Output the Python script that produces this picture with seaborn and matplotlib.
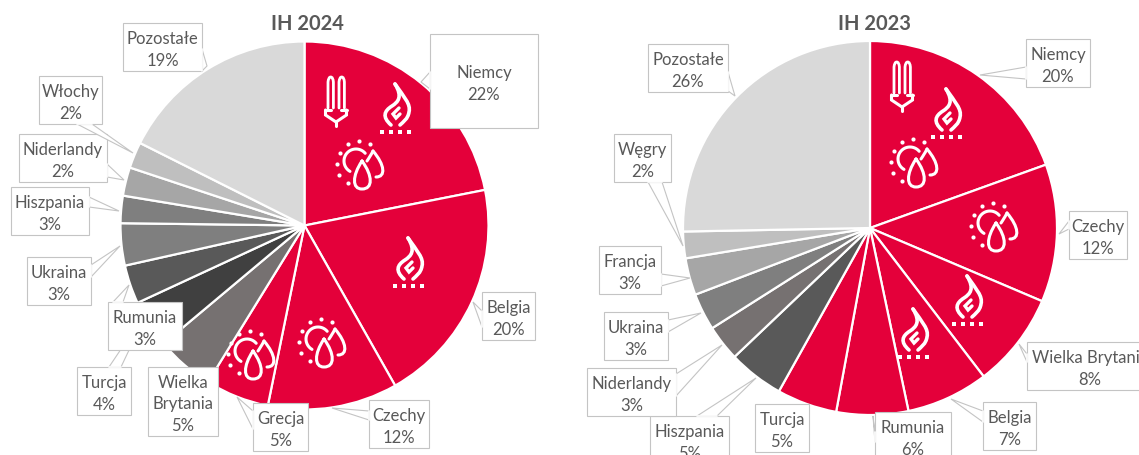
from __future__ import annotations

import matplotlib

matplotlib.use("Agg")

import matplotlib.pyplot as plt
import numpy as np
import seaborn as sns
from matplotlib.patches import PathPatch, Polygon, Rectangle
from matplotlib.path import Path

RED = "#E4003A"
TEXT = "#595959"
BOX_EDGE = "#C4C4C4"

COUNTRIES_24 = ["Niemcy", "Belgia", "Czechy", "Grecja", "Wielka\nBrytania", "Turcja",
                "Rumunia", "Ukraina", "Hiszpania", "Niderlandy", "Włochy", "Pozostałe"]
SHARES_24 = [21.9, 19.9, 11.4, 5.6, 5.1, 4.2, 3.4, 3.7, 2.4, 2.5, 2.3, 17.6]
LABELS_24 = ["22%", "20%", "12%", "5%", "5%", "4%", "3%", "3%", "3%", "2%", "2%", "19%"]
COLORS_24 = [RED, RED, RED, RED, "#767171", "#404040", "#595959", "#7F7F7F",
             "#7F7F7F", "#A6A6A6", "#BFBFBF", "#D9D9D9"]

COUNTRIES_23 = ["Niemcy", "Czechy", "Wielka Brytania", "Belgia", "Rumunia", "Turcja",
                "Hiszpania", "Niderlandy", "Ukraina", "Francja", "Węgry", "Pozostałe"]
SHARES_23 = [19.5, 11.9, 8.2, 7.1, 6.2, 5.2, 4.8, 3.1, 3.2, 3.2, 2.3, 25.3]
LABELS_23 = ["20%", "12%", "8%", "7%", "6%", "5%", "5%", "3%", "3%", "3%", "2%", "26%"]
COLORS_23 = [RED, RED, RED, RED, RED, RED, "#595959", "#767171", "#7F7F7F",
             "#A6A6A6", "#BFBFBF", "#D9D9D9"]

# label boxes in pixels: x0, x1, y0, y1, callout tip, callout base 1, callout base 2
BOXES_24 = {
    "Niemcy": (430, 538, 35, 129, (421, 83), (430, 73), (430, 90)),
    "Belgia": (482, 535, 293, 341, (473, 303), (482, 312), (482, 328)),
    "Czechy": (369, 429, 401, 449, (332, 409), (369, 412), (369, 421)),
    "Grecja": (253, 308, 404, 452, (237, 398), (253, 412), (253, 430)),
    "Turcja": (77, 131, 368, 416, (150, 307), (109, 368), (121, 368)),
    "Wielka\nBrytania": (148, 218, 368, 437, None, None, None),
    "Rumunia": (108, 182, 303, 351, (129, 286), (113, 303), (123, 303)),
    "Ukraina": (27, 91, 258, 306, (120, 247), (91, 266), (91, 278)),
    "Hiszpania": (11, 89, 188, 236, (119, 212), (89, 198), (89, 208)),
    "Niderlandy": (19, 107, 135, 183, (124, 181), (107, 165), (107, 178)),
    "Włochy": (39, 102, 77, 125, (133, 154), (77, 125), (92, 125)),
    "Pozostałe": (123, 202, 24, 72, (207, 67), (202, 50), (202, 72)),
}
BOXES_23 = {
    "Niemcy": (1026, 1090, 40, 88, (980, 76), (1026, 68), (1026, 80)),
    "Czechy": (1069, 1127, 212, 260, (1059, 235), (1069, 222), (1069, 230)),
    "Wielka Brytania": (1027, 1153, 343, 391, (1019, 345), (1027, 355), (1027, 363)),
    "Belgia": (983, 1036, 403, 451, (951, 400), (983, 412), (983, 423)),
    "Rumunia": (875, 951, 413, 461, (873, 417), (875, 433), (875, 443)),
    "Turcja": (755, 809, 405, 453, None, None, None),
    "Hiszpania": (650, 729, 417, 465, (756, 379), (697, 417), (717, 417)),
    "Niderlandy": (587, 676, 369, 417, (722, 346), (676, 375), (676, 397)),
    "Ukraina": (604, 668, 313, 361, (701, 314), (668, 321), (668, 333)),
    "Francja": (599, 661, 247, 295, (690, 279), (661, 275), (661, 287)),
    "Węgry": (614, 671, 135, 183, (683, 247), (648, 183), (662, 183)),
    "Pozostałe": (648, 728, 45, 93, (735, 97), (728, 73), (728, 92)),
}

ICONS_24 = [("bulb", 336, 102), ("flame", 396, 110), ("sun", 359, 165),
            ("flame", 409, 264), ("sun", 321, 343), ("sun", 250, 355)]
ICONS_23 = [("bulb", 902, 87), ("flame", 947, 115), ("sun", 913, 163),
            ("sun", 993, 227), ("flame", 968, 302), ("flame", 914, 335)]

SUN_DOTS = [(-11, -20), (0, -23), (11, -20), (-19, -11), (-22, 0), (-20, 11), (-11, 19)]


def stroke(ax, verts, codes, x, y, lw=2.2):
    verts = np.array(verts, dtype=float) + (x, y)
    patch = PathPatch(Path(verts, codes), fc="none", ec="white", lw=lw, capstyle="round", zorder=4)
    ax.add_patch(patch)


def draw_bulb(ax, x, y):
    m, l, c = Path.MOVETO, Path.LINETO, Path.CURVE3
    for x0 in (-8, 3):
        stroke(ax, [(x0, 7), (x0, -19), (x0 + 0.5, -24), (x0 + 2.7, -24), (x0 + 5, -24),
                    (x0 + 5.4, -19), (x0 + 5.4, 7)], [m, l, c, c, c, c, l], x, y, lw=2.0)
    stroke(ax, [(-10.5, 9), (-10.5, 14), (0, 21), (10.5, 14), (10.5, 9)], [m, l, l, l, l], x, y)
    stroke(ax, [(-10.5, 9), (-5, 9)], [m, l], x, y)
    stroke(ax, [(5, 9), (10.5, 9)], [m, l], x, y)
    stroke(ax, [(0, 21), (0, 25)], [m, l], x, y)


def draw_flame(ax, x, y):
    m, l, c = Path.MOVETO, Path.LINETO, Path.CURVE4
    stroke(ax, [(-1, -25), (8, -12), (15, -5), (13, 3), (12, 10), (7, 13), (4, 16)],
           [m, c, c, c, c, c, c], x, y, lw=2.6)
    stroke(ax, [(-1, -25), (7, -12), (2, -7), (-4, -3), (-12, 2), (-14, 8), (-5, 16)],
           [m, c, c, c, c, c, c], x, y, lw=2.6)
    stroke(ax, [(3, -1), (-3, 5), (0, 9), (4, 5)], [m, l, l, l], x, y, lw=2.4)
    for dx in (-14, -5, 4, 13):
        ax.add_patch(Rectangle((x + dx - 2, y + 21), 4, 3.5, fc="white", ec="none", zorder=4))


def draw_sun(ax, x, y):
    m, c = Path.MOVETO, Path.CURVE4
    angles = np.radians(np.linspace(-40, -240, 30))
    ax.plot(x - 3 + 12 * np.cos(angles), y - 3 + 12 * np.sin(angles), color="white", lw=2.2, zorder=4)
    for dx, dy in SUN_DOTS:
        ax.plot(x + dx, y + dy, "o", color="white", ms=3.0, mew=0, zorder=4)
    stroke(ax, [(3, -3), (-7, 12), (-7, 25), (3, 25), (14, 25), (14, 12), (3, -3)],
           [m, c, c, c, c, c, c], x, y)
    stroke(ax, [(14, -13), (26, 1), (27, 13), (17, 13)], [m, c, c, c], x, y)
    stroke(ax, [(14, -13), (12, -9), (10, -6), (8, -3)], [m, c, c, c], x, y)


DRAW_ICON = {"bulb": draw_bulb, "flame": draw_flame, "sun": draw_sun}


def draw_pie(ax, title, title_x, center, radius, names, shares, labels, colors, boxes, icons):
    ax.pie(
        shares,
        colors=colors,
        center=center,
        radius=radius,
        startangle=-90,
        counterclock=True,
        wedgeprops={"edgecolor": "white", "linewidth": 1.6},
    )
    for kind, x, y in icons:
        DRAW_ICON[kind](ax, x, y)
    ax.text(title_x, 24, title, ha="center", va="center", color=TEXT, fontsize=14.5, fontweight="bold")
    share_by_name = dict(zip(names, labels))
    # boxes go in dict order so Rumunia covers the callout of Turcja
    for z, (name, (x0, x1, y0, y1, tip, b1, b2)) in enumerate(boxes.items()):
        base_z = 5 + z * 0.1
        if tip is not None:
            ax.add_patch(Polygon([b1, tip, b2], closed=True, fc="white", ec=BOX_EDGE, lw=0.8, zorder=base_z))
        ax.add_patch(Rectangle((x0, y0), x1 - x0, y1 - y0, fc="white", ec=BOX_EDGE, lw=0.8, zorder=base_z + 0.01))
        if tip is not None:
            # hide the seam where the callout meets the box
            ax.plot([b1[0], b2[0]], [b1[1], b2[1]], color="white", lw=1.2, zorder=base_z + 0.02)
        ax.text((x0 + x1) / 2, (y0 + y1) / 2 + 2, f"{name}\n{share_by_name[name]}", ha="center", va="center",
                color=TEXT, fontsize=12, linespacing=1.42, zorder=base_z + 0.03)


def main() -> None:
    sns.set_theme(style="white")
    plt.rcParams.update({"font.family": ["Lato", "DejaVu Sans"]})

    fig = plt.figure(figsize=(11.39, 4.56), dpi=100)
    ax = fig.add_axes([0, 0, 1, 1])

    draw_pie(ax, "IH 2024", 307, (304.5, 226.5), 184, COUNTRIES_24, SHARES_24, LABELS_24,
             COLORS_24, BOXES_24, ICONS_24)
    draw_pie(ax, "IH 2023", 875, (870, 229), 187, COUNTRIES_23, SHARES_23, LABELS_23,
             COLORS_23, BOXES_23, ICONS_23)

    ax.set_aspect("auto")
    ax.set_xlim(0, 1139)
    ax.set_ylim(456, 0)
    ax.axis("off")
    fig.savefig("out.png", dpi=100)
    plt.close(fig)


if __name__ == "__main__":
    main()
